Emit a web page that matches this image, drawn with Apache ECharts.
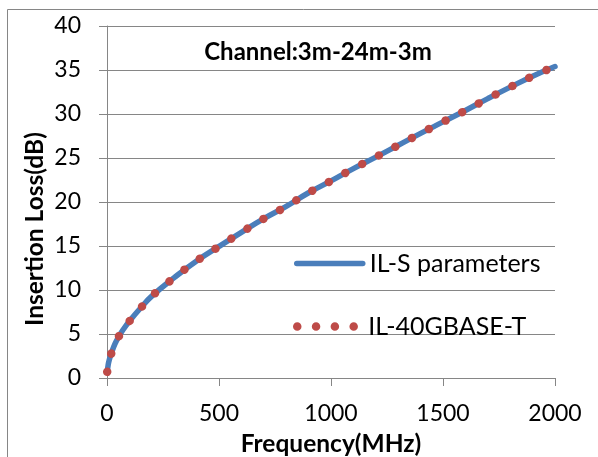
<!DOCTYPE html>
<html>
<head>
<meta charset="utf-8">
<script src="https://cdn.jsdelivr.net/npm/echarts@6/dist/echarts.min.js"></script>
<style>
  html, body { margin: 0; padding: 0; background: #fff; }
  #chart { width: 598px; height: 457px; }
</style>
</head>
<body>
<div id="chart"></div>
<script>
// frequency points (MHz)
const freqS = [1, 5, 10, 20, 35, 50, 75, 100, 150, 200, 300, 400, 500, 600, 700, 800, 900, 1000, 1100, 1200, 1300, 1400, 1500, 1600, 1700, 1800, 1900, 2000];
// IL from S parameters (dB)
const ilS = [0.7, 1.45, 2.05, 2.85, 3.85, 4.6, 5.6, 6.45, 7.95, 9.3, 11.4, 13.3, 14.95, 16.55, 18.1, 19.5, 21.05, 22.4, 23.8, 25.1, 26.45, 27.8, 29.1, 30.4, 31.75, 33.05, 34.3, 35.4];
// IL limit line 40GBASE-T (dB)
const freq40G = [1, 5, 10, 20, 35, 50, 75, 100, 150, 200, 300, 400, 500, 600, 700, 800, 900, 1000, 1100, 1200, 1300, 1400, 1500, 1600, 1700, 1800, 1900, 2000];
const il40G = [0.7, 1.45, 2.05, 2.85, 3.85, 4.6, 5.6, 6.45, 7.95, 9.3, 11.4, 13.3, 14.95, 16.55, 18.1, 19.5, 21.05, 22.4, 23.8, 25.1, 26.45, 27.8, 29.1, 30.4, 31.75, 33.05, 34.3, 35.4];

const FONT = 'Lato';
const GRAY = '#868686';

const chart = echarts.init(document.getElementById('chart'));

const option = {
  animation: false,
  title: {
    text: 'Channel:3m-24m-3m',
    left: 318,
    top: 40,
    padding: 0,
    textAlign: 'center',
    textStyle: { fontFamily: FONT, fontWeight: 'bold', fontSize: 24, color: '#000' }
  },
  // v6 would shrink the grid to fit the labels; keep the exact box
  grid: { left: 107, right: 43, top: 26, bottom: 79, outerBoundsMode: 'none' },
  legend: [
    {
      left: 294, top: 251, padding: 0,
      itemWidth: 66, itemHeight: 14,
      data: ['IL-S parameters'],
      itemStyle: { opacity: 0 },
      lineStyle: { width: 5.5 },
      textStyle: { fontFamily: FONT, fontSize: 25, lineHeight: 24, color: '#000', padding: [0, 0, 0, 2] }
    },
    {
      left: 293, top: 314, padding: 0,
      itemWidth: 62, itemHeight: 14,
      data: ['IL-40GBASE-T'],
      itemStyle: { opacity: 0 },
      lineStyle: { width: 8.5 },
      textStyle: { fontFamily: FONT, fontSize: 25, lineHeight: 24, color: '#000', padding: [0, 0, 0, 4] }
    }
  ],
  xAxis: {
    type: 'value',
    min: 0, max: 2000, interval: 500,
    name: 'Frequency(MHz)',
    nameLocation: 'middle',
    nameGap: 54,
    nameTextStyle: { fontFamily: FONT, fontWeight: 'bold', fontSize: 24.5, color: '#000' },
    axisLine: { show: true, lineStyle: { color: GRAY, width: 1 } },
    axisTick: { show: true, length: 8, lineStyle: { color: GRAY } },
    axisLabel: { margin: 24, fontFamily: FONT, fontSize: 23, color: '#000', formatter: v => String(v) },
    splitLine: { show: false }
  },
  yAxis: {
    type: 'value',
    min: 0, max: 40, interval: 5,
    axisLine: { show: true, lineStyle: { color: GRAY, width: 1 } },
    axisTick: { show: true, length: 8, lineStyle: { color: GRAY } },
    axisLabel: { margin: 26, fontFamily: FONT, fontSize: 23, color: '#000' },
    splitLine: { show: true, lineStyle: { color: GRAY, width: 1 } }
  },
  graphic: [
    {
      type: 'rect',
      shape: { x: 7.5, y: 9.5, width: 700, height: 600 },
      style: { fill: 'none', stroke: GRAY, lineWidth: 1 },
      silent: true
    },
    {
      type: 'text',
      x: 35, y: 229,
      rotation: Math.PI / 2,
      style: {
        text: 'Insertion Loss(dB)',
        font: 'bold 24.5px ' + FONT,
        fill: '#000',
        align: 'center',
        verticalAlign: 'middle'
      }
    }
  ],
  series: [
    {
      name: 'IL-S parameters',
      type: 'line',
      smooth: true,
      showSymbol: false,
      data: freqS.map((f, i) => [f, ilS[i]]),
      lineStyle: { color: '#4A7EBB', width: 5.5, cap: 'round' },
      itemStyle: { color: '#4A7EBB' }
    },
    {
      name: 'IL-40GBASE-T',
      type: 'line',
      smooth: true,
      showSymbol: false,
      data: freq40G.map((f, i) => [f, il40G[i]]),
      lineStyle: { color: '#BE4B48', width: 8.5, type: [0.01, 18.8], cap: 'round' },
      itemStyle: { color: '#BE4B48' }
    }
  ]
};

chart.setOption(option);
</script>
</body>
</html>
